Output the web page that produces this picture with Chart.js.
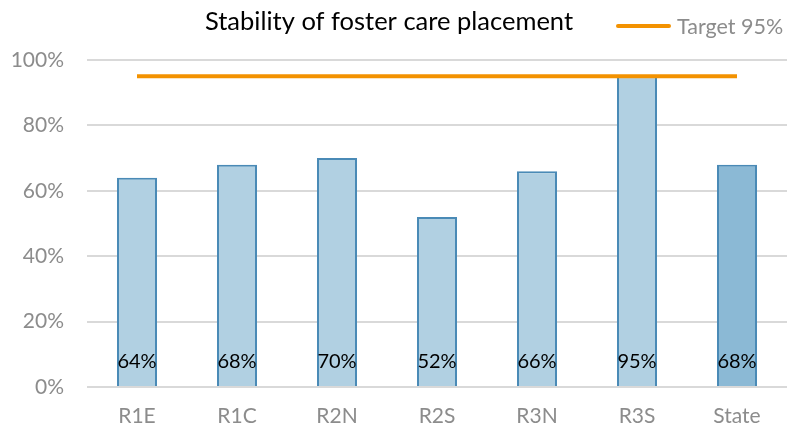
<!DOCTYPE html>
<html>
<head>
<meta charset="utf-8">
<style>
	html, body { margin: 0; padding: 0; background: #fff; }
	#wrap { width: 796px; height: 427px; }
</style>
<script src="https://cdn.jsdelivr.net/npm/chart.js@4/dist/chart.umd.min.js"></script>
</head>
<body>
<div id="wrap"><canvas id="myChart" width="796" height="427"></canvas></div>
<script>
	const regions = ["R1E", "R1C", "R2N", "R2S", "R3N", "R3S", "State"];
	const placementPct = [64, 68, 70, 52, 66, 95, 68];
	const targetPct = [95, 95, 95, 95, 95, 95, 95];
	const yTicks = [0, 20, 40, 60, 80, 100];

	const titleText = "Stability of foster care placement";
	const legendText = "Target 95%";
	const fontFam = "Lato, 'Open Sans', sans-serif";

	const barFill = regions.map((r) => (r === "State" ? "#8bb9d5" : "#b1d0e2"));

	// title, legend and the value labels inside the bars
	const extras = {
		id: "extras",
		afterDraw(chart) {
			const c = chart.ctx;
			c.save();
			c.textBaseline = "middle";
			c.fillStyle = "#000";
			c.font = "25.5px " + fontFam;
			c.textAlign = "center";
			c.fillText(titleText, 389, 22);

			c.strokeStyle = "#f39200";
			c.lineWidth = 4;
			c.lineCap = "round";
			c.beginPath();
			c.moveTo(618, 26);
			c.lineTo(669, 26);
			c.stroke();
			c.fillStyle = "#8c8c8c";
			c.font = "21.5px " + fontFam;
			c.textAlign = "left";
			c.fillText(legendText, 677, 27);

			const meta = chart.getDatasetMeta(0);
			c.fillStyle = "#000";
			c.font = "20px " + fontFam;
			c.textAlign = "center";
			meta.data.forEach((bar, i) => {
				c.fillText(placementPct[i] + "%", bar.x, chart.scales.y.bottom - 25);
			});
			c.restore();
		},
	};

	const ctx = document.getElementById("myChart").getContext("2d");
	const myChart = new Chart(ctx, {
		data: {
			labels: regions,
			datasets: [
				{
					type: "bar",
					label: "Placement",
					data: placementPct,
					backgroundColor: barFill,
					borderColor: "#4a8ab6",
					borderWidth: 2,
					barPercentage: 0.4,
					categoryPercentage: 1,
					order: 2,
				},
				{
					type: "line",
					label: legendText,
					data: targetPct,
					borderColor: "#f39200",
					borderWidth: 4,
					pointRadius: 0,
					order: 1,
				},
			],
		},
		options: {
			responsive: false,
			animation: false,
			layout: { padding: { top: 60, right: 9, left: 0, bottom: 0 } },
			plugins: {
				legend: { display: false },
				title: { display: false },
				tooltip: { enabled: false },
			},
			scales: {
				x: {
					grid: { display: false },
					border: { display: false },
					ticks: { color: "#8c8c8c", font: { family: fontFam, size: 21 }, padding: 9 },
					afterFit(scale) {
						scale.height = 40;
					},
				},
				y: {
					min: 0,
					max: 100,
					border: { display: false },
					grid: { color: "#d9d9d9", lineWidth: 2, drawTicks: false },
					afterBuildTicks(scale) {
						scale.ticks = yTicks.map((v) => ({ value: v }));
					},
					ticks: {
						color: "#8c8c8c",
						font: { family: fontFam, size: 21 },
						padding: 23,
						callback: (v) => v + "%",
					},
					afterFit(scale) {
						scale.width = 87;
					},
				},
			},
		},
		plugins: [extras],
	});
</script>
</body>
</html>
